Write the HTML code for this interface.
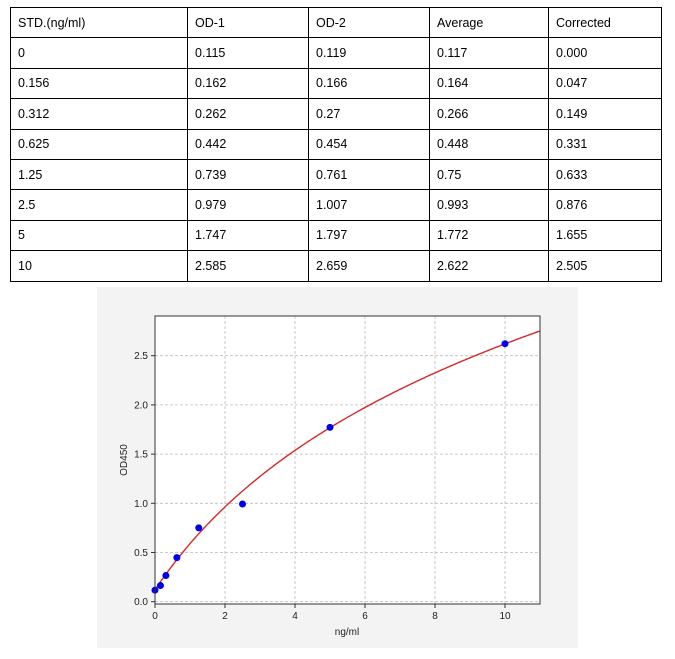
<!DOCTYPE html>
<html><head><style>
body{margin:0;background:#fff;width:675px;height:659px;position:relative;font-family:"Liberation Sans",sans-serif;}
table{position:absolute;left:10px;top:7px;border-collapse:collapse;font-family:"Liberation Sans",sans-serif;font-size:12.5px;color:#000;}
td{border:1px solid #000;height:30.4px;padding:0 0 0 7px;box-sizing:border-box;}
tr{height:30.4px;}
</style></head><body>
<table>
<tr><td style="width:177px">STD.(ng/ml)</td><td style="width:121px">OD-1</td><td style="width:121px">OD-2</td><td style="width:119px">Average</td><td style="width:113px">Corrected</td></tr>
<tr><td>0</td><td>0.115</td><td>0.119</td><td>0.117</td><td>0.000</td></tr>
<tr><td>0.156</td><td>0.162</td><td>0.166</td><td>0.164</td><td>0.047</td></tr>
<tr><td>0.312</td><td>0.262</td><td>0.27</td><td>0.266</td><td>0.149</td></tr>
<tr><td>0.625</td><td>0.442</td><td>0.454</td><td>0.448</td><td>0.331</td></tr>
<tr><td>1.25</td><td>0.739</td><td>0.761</td><td>0.75</td><td>0.633</td></tr>
<tr><td>2.5</td><td>0.979</td><td>1.007</td><td>0.993</td><td>0.876</td></tr>
<tr><td>5</td><td>1.747</td><td>1.797</td><td>1.772</td><td>1.655</td></tr>
<tr><td>10</td><td>2.585</td><td>2.659</td><td>2.622</td><td>2.505</td></tr>
</table>
<svg id="s" width="675" height="659" style="position:absolute;left:0;top:0" font-family="Liberation Sans, sans-serif">
<rect x="97" y="287" width="481" height="361" fill="#f3f3f3"/>
<rect x="155" y="316" width="385" height="288" fill="#fff"/>
<g id="g"></g>
<rect x="155" y="316" width="385" height="288" fill="none" stroke="#333" stroke-width="1"/>
<text x="127" y="460" font-size="10" fill="#222" transform="rotate(-90 127 460)" text-anchor="middle">OD450</text>
<text x="347" y="635" font-size="10" fill="#222" text-anchor="middle">ng/ml</text>
</svg>
<script>
var g=document.getElementById('g'),h='';
function X(v){return 155+35*v}function Y(v){return 601.7-98.4*v}
for(var i=0;i<=10;i+=2){var x=X(i);h+='<line x1="'+x+'" y1="316" x2="'+x+'" y2="604" stroke="#bbb" stroke-dasharray="3,2" stroke-width="0.8"/><line x1="'+x+'" y1="604" x2="'+x+'" y2="608" stroke="#333"/><text x="'+x+'" y="619" font-size="10" fill="#222" text-anchor="middle">'+i+'</text>';}
for(var j=0;j<=5;j++){var v=j*0.5,y=Y(v);h+='<line x1="155" y1="'+y+'" x2="540" y2="'+y+'" stroke="#bbb" stroke-dasharray="3,2" stroke-width="0.8"/><line x1="151" y1="'+y+'" x2="155" y2="'+y+'" stroke="#333"/><text x="148" y="'+(y+3.5)+'" font-size="10" fill="#222" text-anchor="end">'+v.toFixed(1)+'</text>';}
var p='';for(var k=0;k<=220;k++){var xv=k*11/220;var yv=0.12+1.823*Math.log(1+xv/3.4);p+=(k?'L':'M')+X(xv).toFixed(1)+','+Y(yv).toFixed(1);}
h+='<path d="'+p+'" fill="none" stroke="#d62728" stroke-width="1.4"/>';
var d=[[0,0.117],[0.156,0.164],[0.312,0.266],[0.625,0.448],[1.25,0.75],[2.5,0.993],[5,1.772],[10,2.622]];
d.forEach(function(q){h+='<circle cx="'+X(q[0])+'" cy="'+Y(q[1])+'" r="3.5" fill="#0000ee"/>'});
g.innerHTML=h;
</script>
</body></html>
